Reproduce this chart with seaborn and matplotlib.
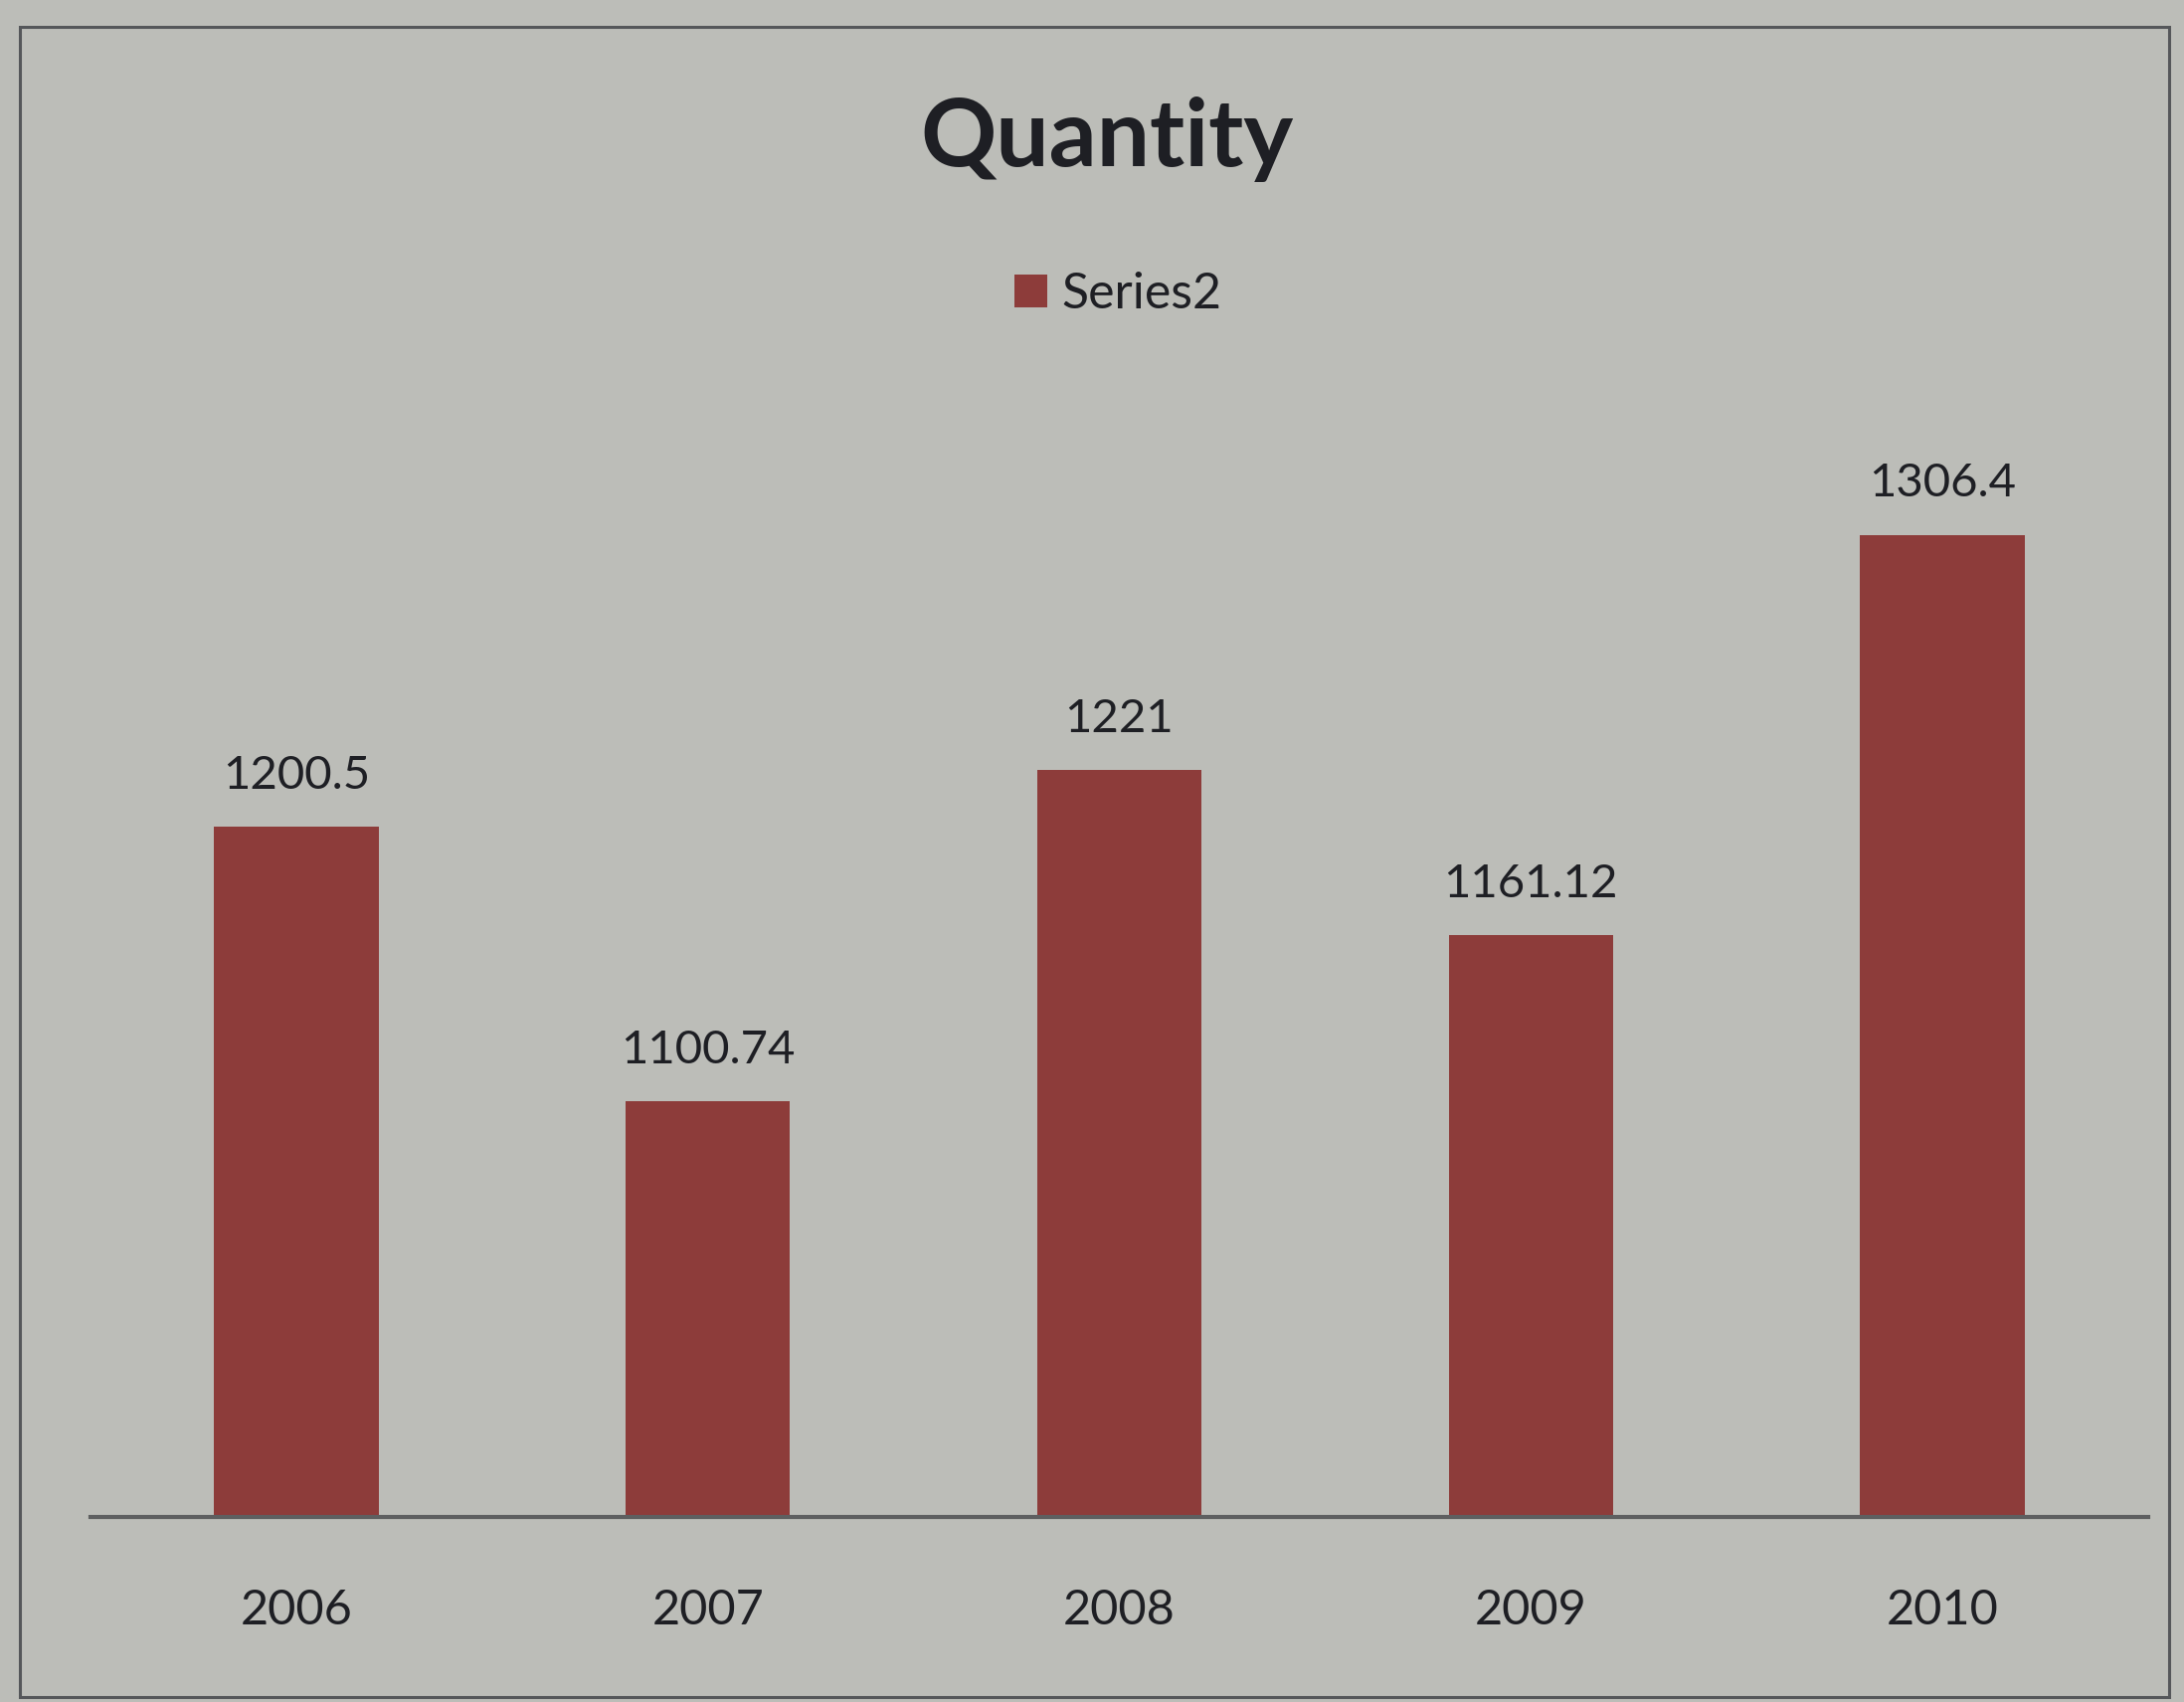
import matplotlib
matplotlib.use("Agg")
import matplotlib.pyplot as plt
from matplotlib.patches import Rectangle
import pandas as pd
import seaborn as sns

# Yearly quantities
years = ["2006", "2007", "2008", "2009", "2010"]
quantity = [1200.5, 1100.74, 1221, 1161.12, 1306.4]
series_name = "Series2"
chart_title = "Quantity"

BG = "#bcbdb8"
BAR = "#8d3c3a"
INK = "#1e1f24"

sns.set_theme(style="white")
plt.rcParams["font.family"] = ["Lato", "DejaVu Sans"]

df = pd.DataFrame({"year": years, "quantity": quantity, "series": series_name})

fig = plt.figure(figsize=(21.96, 17.11), dpi=100, facecolor=BG)
ax = fig.add_axes([0.0414, 0.1087, 0.9422, 0.6476])
ax.set_facecolor("none")

sns.barplot(data=df, x="year", y="quantity", hue="series", palette=[BAR],
            width=0.4, dodge=False, saturation=1, linewidth=0, ax=ax)

ax.set_ylim(950, 1350)
ax.set_xlim(-0.5, 4.5)
ax.set_xlabel("")
ax.set_ylabel("")
ax.set_yticks([])
for side in ("top", "right", "left"):
    ax.spines[side].set_visible(False)
ax.spines["bottom"].set_color("#5e5f60")
ax.spines["bottom"].set_linewidth(3)
ax.tick_params(axis="x", length=0, pad=52, labelsize=35, labelcolor=INK)

for container in ax.containers:
    ax.bar_label(container, fmt="%g", padding=22, fontsize=34, color=INK)

sns.move_legend(ax, "center", bbox_to_anchor=(0.512, 0.827),
                bbox_transform=fig.transFigure, frameon=False, title=None,
                fontsize=36, handlelength=0.66, handleheight=0.66,
                handletextpad=0.3, labelcolor=INK)
for handle in ax.get_legend().legend_handles:
    handle.set_linewidth(0)

fig.text(0.507, 0.918, chart_title, ha="center", va="center",
         fontsize=68, fontweight="bold", color=INK)

# outer chart frame
fig.patches.append(Rectangle((0.009, 0.003), 0.984, 0.981, transform=fig.transFigure,
                             fill=False, edgecolor="#55575a", linewidth=2.2))

fig.savefig("out.png", dpi=100, facecolor=BG)
